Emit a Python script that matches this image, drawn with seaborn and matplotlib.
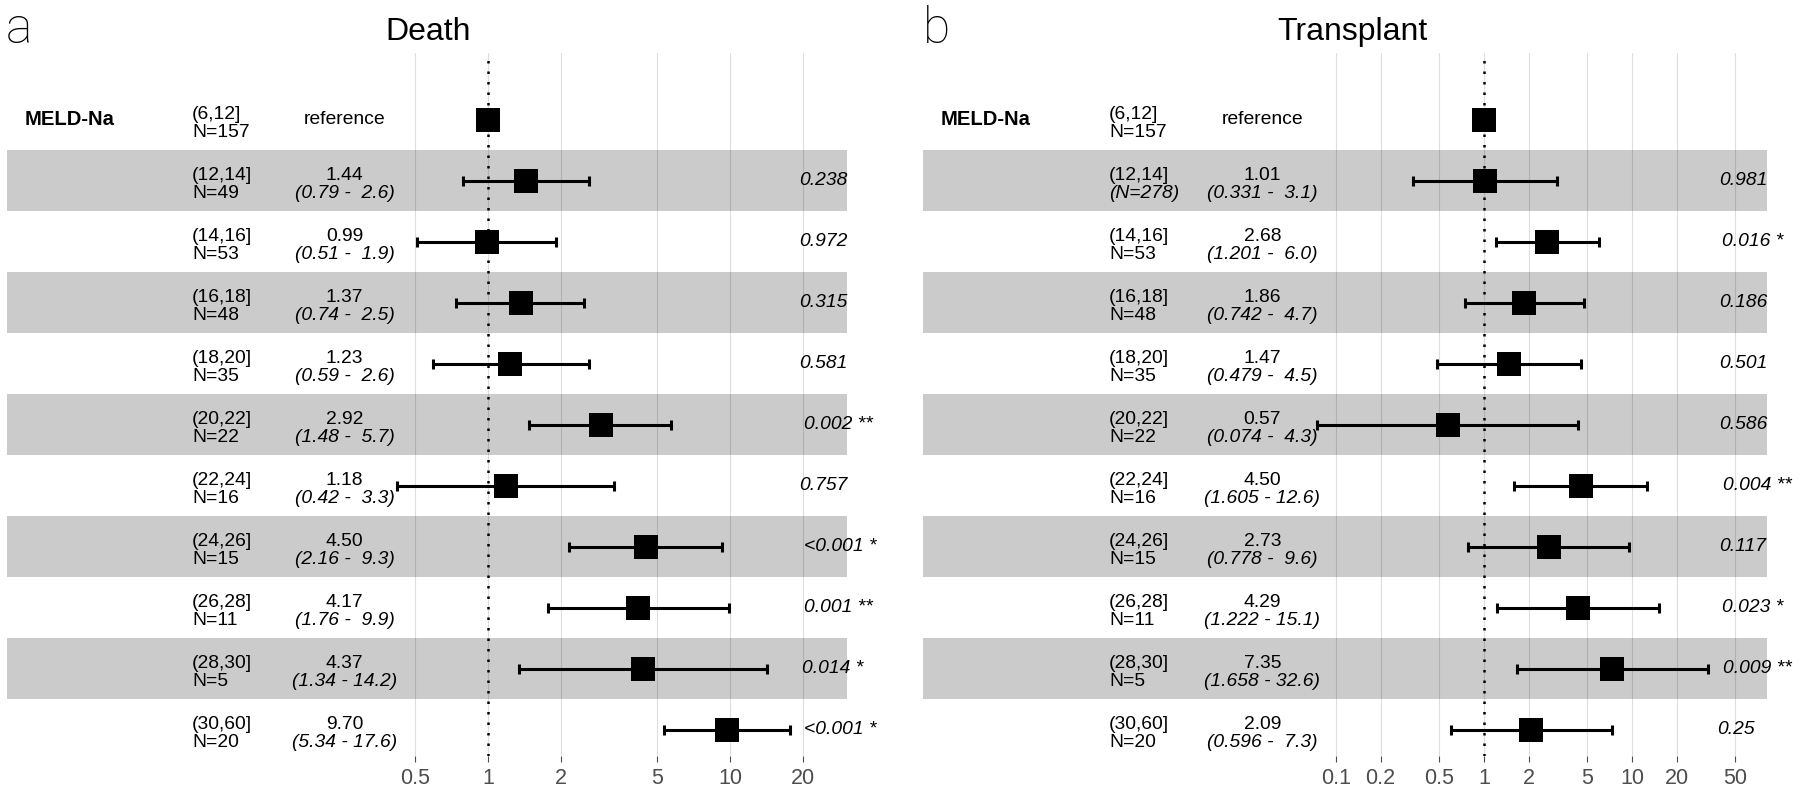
import matplotlib
matplotlib.use("Agg")
import matplotlib.pyplot as plt
import numpy as np
import pandas as pd
import seaborn as sns
from matplotlib.ticker import FixedLocator, FixedFormatter, NullLocator
from matplotlib.transforms import blended_transform_factory, offset_copy

# MELD-Na categories, shared by both panels
levels = ["(6,12]", "(12,14]", "(14,16]", "(16,18]", "(18,20]", "(20,22]",
          "(22,24]", "(24,26]", "(26,28]", "(28,30]", "(30,60]"]

# panel a: death
death_n = ["N=157", "N=49", "N=53", "N=48", "N=35", "N=22",
           "N=16", "N=15", "N=11", "N=5", "N=20"]
death_hr = [1.0, 1.44, 0.99, 1.37, 1.23, 2.92, 1.18, 4.50, 4.17, 4.37, 9.70]
death_lo = [np.nan, 0.79, 0.51, 0.74, 0.59, 1.48, 0.42, 2.16, 1.76, 1.34, 5.34]
death_hi = [np.nan, 2.6, 1.9, 2.5, 2.6, 5.7, 3.3, 9.3, 9.9, 14.2, 17.6]
death_p = ["", "0.238", "0.972", "0.315", "0.581", "0.002 **",
           "0.757", "<0.001 *", "0.001 **", "0.014 *", "<0.001 *"]
death_ticks = [0.5, 1, 2, 5, 10, 20]

# panel b: transplant
tx_n = ["N=157", "(N=278)", "N=53", "N=48", "N=35", "N=22",
        "N=16", "N=15", "N=11", "N=5", "N=20"]
tx_hr = [1.0, 1.01, 2.68, 1.86, 1.47, 0.57, 4.50, 2.73, 4.29, 7.35, 2.09]
tx_lo = [np.nan, 0.331, 1.201, 0.742, 0.479, 0.074, 1.605, 0.778, 1.222, 1.658, 0.596]
tx_hi = [np.nan, 3.1, 6.0, 4.7, 4.5, 4.3, 12.6, 9.6, 15.1, 32.6, 7.3]
tx_p = ["", "0.981", "0.016 *", "0.186", "0.501", "0.586",
        "0.004 **", "0.117", "0.023 *", "0.009 **", "0.25"]
tx_ticks = [0.1, 0.2, 0.5, 1, 2, 5, 10, 20, 50]

sns.set_theme(style="white")
plt.rcParams["font.family"] = ["Liberation Sans", "DejaVu Sans"]
plt.rcParams["text.color"] = "black"

W, H = 1800, 793
fig = plt.figure(figsize=(W / 100, H / 100), dpi=100)
FS = 13.9


def draw_panel(ax, n_labels, hr, lo, hi, pvals, ticks, lo_dec, xlim):
    rows = np.arange(len(levels))
    df = pd.DataFrame({"row": rows, "hr": hr, "lo": lo, "hi": hi})

    ax.set_xscale("log")
    ax.set_xlim(*xlim)
    ax.set_ylim(10.43, -1.098)
    for s in ax.spines.values():
        s.set_visible(False)
    ax.set_yticks([])
    ax.xaxis.set_major_locator(FixedLocator(ticks))
    ax.xaxis.set_major_formatter(FixedFormatter([f"{t:g}" for t in ticks]))
    ax.xaxis.set_minor_locator(NullLocator())
    ax.tick_params(axis="x", bottom=True, length=4.5, width=0.8, color="#4d4d4d",
                   labelsize=15.5, labelcolor="#4d4d4d", pad=4)
    ax.grid(axis="x", color="#dedede", lw=0.8, zorder=0)
    ax.set_axisbelow(True)

    for r in rows[1::2]:
        ax.axhspan(r - 0.5, r + 0.5, color="black", alpha=0.205, lw=0, zorder=1)

    ax.axvline(1, color="black", lw=1.8, linestyle=(0, (1, 3.2)), zorder=2)

    ci = df.dropna()
    ax.errorbar(ci["hr"], ci["row"], xerr=[ci["hr"] - ci["lo"], ci["hi"] - ci["hr"]],
                fmt="none", ecolor="black", elinewidth=2.2, capsize=3.3, capthick=2.2,
                zorder=3)
    sns.scatterplot(data=df, x="hr", y="row", marker="s", s=300, color="black",
                    linewidth=0, ax=ax, zorder=4)
    ax.set_xlabel("")
    ax.set_ylabel("")

    tr = blended_transform_factory(ax.transAxes, ax.transData)
    up = offset_copy(tr, fig=fig, x=0, y=0.5, units="dots")
    down = offset_copy(tr, fig=fig, x=0, y=-17.5, units="dots")

    ax.text(0.021, 0, "MELD-Na", transform=tr, fontsize=14.6, fontweight="bold",
            ha="left", va="center")
    ptexts = []
    for r in rows:
        ax.text(0.2205, r, levels[r], transform=up, fontsize=FS, ha="left", va="baseline")
        ax.text(0.2205, r, n_labels[r], transform=down, fontsize=FS, ha="left",
                va="baseline", style="italic" if n_labels[r].startswith("(") else "normal")
        if r == 0:
            ax.text(0.402, r, "reference", transform=tr, fontsize=FS, ha="center",
                    va="center")
        else:
            ax.text(0.402, r, f"{hr[r]:.2f}", transform=up, fontsize=FS, ha="center",
                    va="baseline")
            ci_txt = f"({lo[r]:.{lo_dec}f} - {hi[r]:>4.1f})"
            ax.text(0.402, r, ci_txt, transform=down, fontsize=FS, ha="center",
                    va="baseline", style="italic")
            t = ax.text(0.932, r, pvals[r], transform=tr, fontsize=FS, ha="left",
                        va="center", style="italic")
            ptexts.append(t)
    return tr, ptexts


ax_a = fig.add_axes([7 / W, (H - 756) / H, 840 / W, 703 / H])
ax_b = fig.add_axes([923 / W, (H - 756) / H, 844 / W, 703 / H])

tr_a, p_a = draw_panel(ax_a, death_n, death_hr, death_lo, death_hi, death_p,
                       death_ticks, 2, (10 ** -1.988, 10 ** 1.483))
tr_b, p_b = draw_panel(ax_b, tx_n, tx_hr, tx_lo, tx_hi, tx_p,
                       tx_ticks, 3, (10 ** -3.791, 10 ** 1.912))

# ggplot-style hjust = -0.2 for the p-value column
fig.canvas.draw()
renderer = fig.canvas.get_renderer()
for tr, texts in ((tr_a, p_a), (tr_b, p_b)):
    for t in texts:
        w = t.get_window_extent(renderer).width
        t.set_transform(offset_copy(tr, fig=fig, x=0.2 * w, y=0, units="dots"))

fig.text(428 / W, 1 - 40 / H, "Death", fontsize=23, ha="center", va="baseline")
fig.text(1352 / W, 1 - 40 / H, "Transplant", fontsize=23, ha="center", va="baseline")
fig.text(6 / W, 1 - 43 / H, "a", fontsize=36, ha="left", va="baseline",
         family=["Roboto", "Liberation Sans"], fontweight="light")
fig.text(923 / W, 1 - 43 / H, "b", fontsize=36, ha="left", va="baseline",
         family=["Roboto", "Liberation Sans"], fontweight="light")

fig.savefig("out.png", dpi=100)
